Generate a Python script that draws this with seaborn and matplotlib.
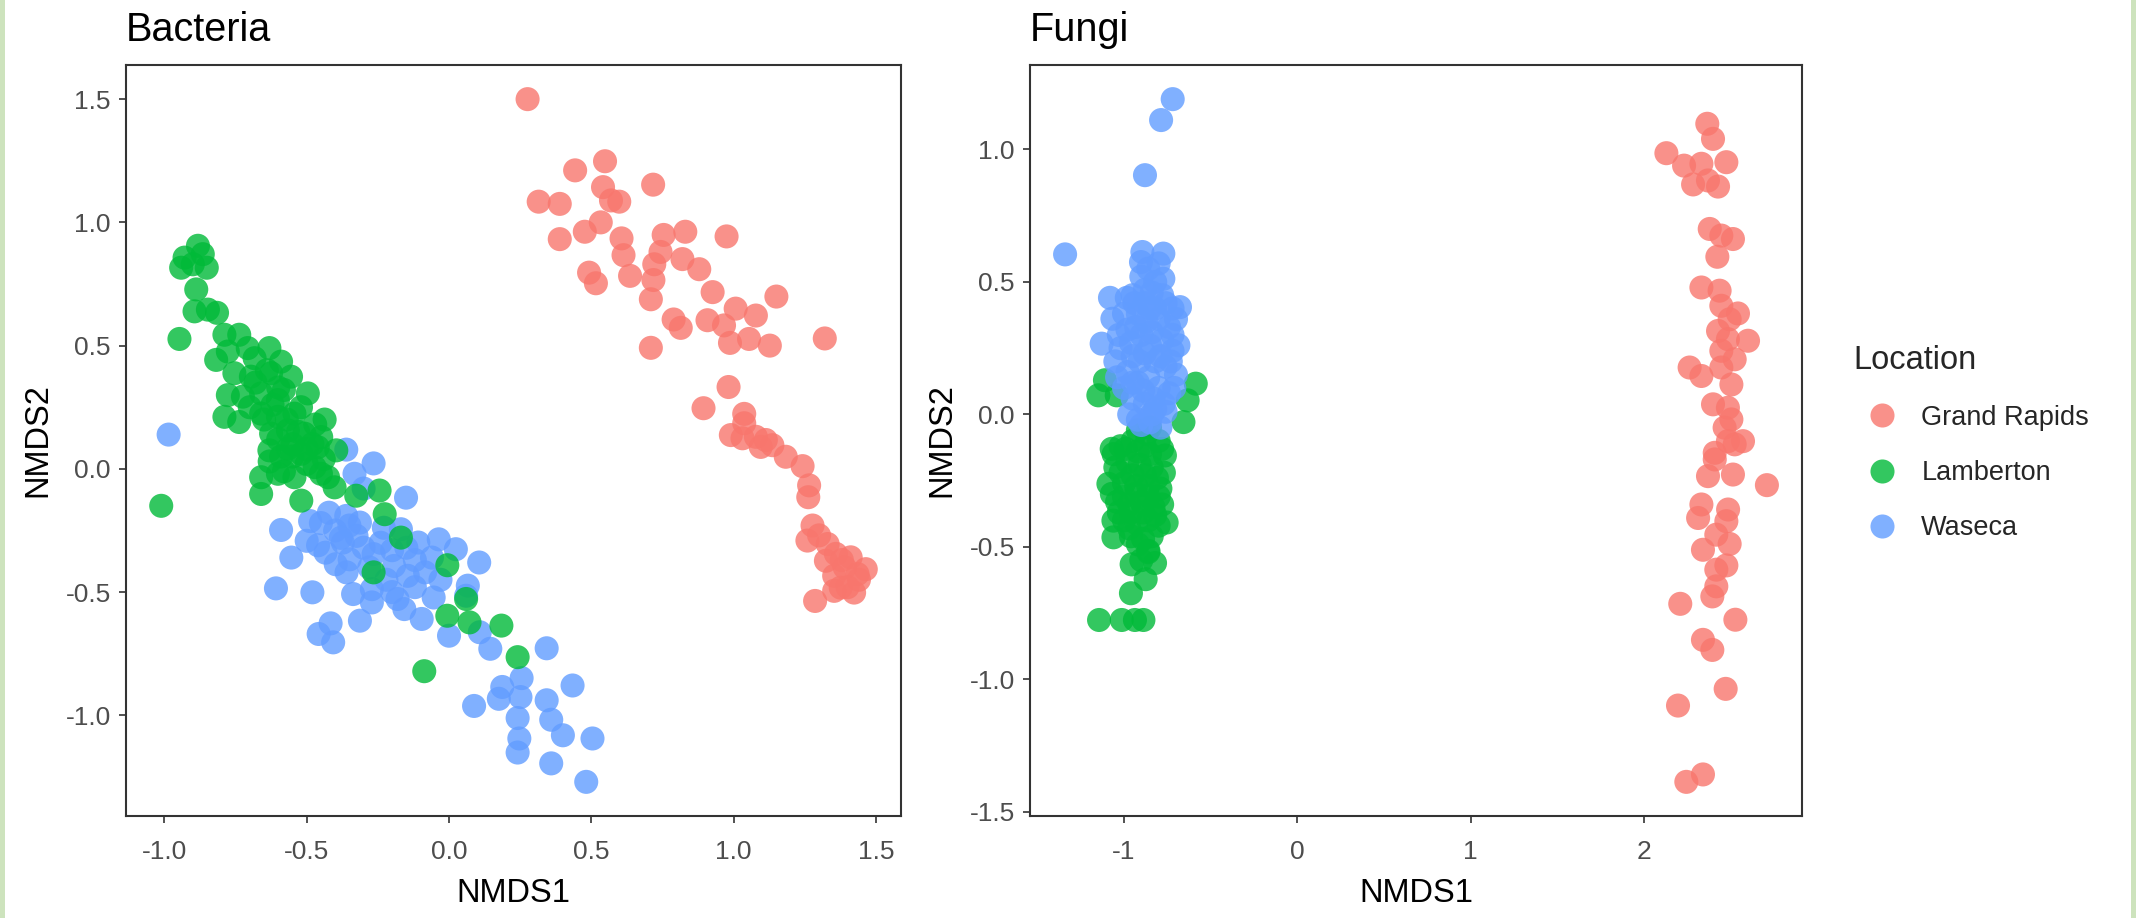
import numpy as np
import pandas as pd
import matplotlib
matplotlib.use("Agg")
import matplotlib.pyplot as plt
from matplotlib.ticker import MultipleLocator, FormatStrFormatter
from matplotlib.patches import Rectangle
import seaborn as sns

# ---------------- data: NMDS ordination scores ----------------
locations = ["Grand Rapids", "Lamberton", "Waseca"]
palette = {"Grand Rapids": "#F8766D", "Lamberton": "#00BA38", "Waseca": "#619CFF"}

bact_gr_x = [0.276, 0.548, 0.443, 0.717, 0.541, 0.315, 0.389, 0.569, 0.598, 0.533,
             0.477, 0.389, 0.606, 0.754, 0.830, 0.975, 0.613, 0.743, 0.721, 0.820,
             0.879, 0.492, 0.516, 0.636, 0.718, 0.709, 0.926, 1.150, 1.007, 1.078,
             0.789, 0.814, 0.908, 0.966, 0.987, 1.054, 1.127, 1.320, 0.709,
             0.982, 0.894, 1.037, 1.037, 0.990, 1.031, 1.078, 1.113, 1.095, 1.136,
             1.183, 1.242, 1.265, 1.262, 1.277, 1.259, 1.330, 1.359, 1.324, 1.411,
             1.464, 1.435, 1.353, 1.376, 1.423, 1.353, 1.286, 1.300, 1.390, 1.440,
             1.380, 1.400]
bact_gr_y = [1.500, 1.248, 1.211, 1.153, 1.143, 1.084, 1.075, 1.089, 1.084, 1.000,
             0.962, 0.932, 0.935, 0.949, 0.962, 0.943, 0.867, 0.880, 0.830, 0.851,
             0.810, 0.796, 0.753, 0.783, 0.766, 0.688, 0.717, 0.699, 0.650, 0.622,
             0.606, 0.572, 0.603, 0.582, 0.511, 0.527, 0.500, 0.529, 0.491,
             0.332, 0.246, 0.223, 0.185, 0.137, 0.124, 0.130, 0.117, 0.089, 0.096,
             0.049, 0.011, -0.067, -0.115, -0.230, -0.291, -0.305, -0.345, -0.373, -0.359,
             -0.407, -0.427, -0.434, -0.482, -0.502, -0.495, -0.536, -0.270, -0.400, -0.450,
             -0.370, -0.480]

bact_wa_x = [-0.985, -0.265, -0.361, -0.151, -0.590, -0.488, -0.422, -0.361, -0.313, -0.229,
             -0.500, -0.434, -0.373, -0.325, -0.265, -0.554, -0.398, -0.349, -0.169, -0.108,
             -0.036, 0.024, 0.106, -0.193, -0.145, -0.084, -0.608, -0.480, -0.337, -0.271,
             -0.271, -0.181, -0.157, -0.096, -0.054, 0.066, 0.060, 0.000, -0.313, -0.416,
             -0.458, -0.407, 0.108, 0.145, 0.343, 0.255, 0.187, 0.175, 0.251, 0.088,
             0.434, 0.343, 0.241, 0.359, 0.400, 0.247, 0.504, 0.241, 0.359, 0.482,
             -0.332, -0.300, -0.400, -0.350, -0.200, -0.120, -0.220,
             -0.450, -0.380, -0.300, -0.240, -0.360, -0.280, -0.150, -0.060, -0.120, -0.200,
             -0.030, -0.460]
bact_wa_y = [0.139, 0.022, 0.078, -0.117, -0.248, -0.212, -0.178, -0.191, -0.218, -0.239,
             -0.292, -0.340, -0.299, -0.272, -0.346, -0.360, -0.387, -0.367, -0.245, -0.299,
             -0.286, -0.326, -0.380, -0.394, -0.434, -0.420, -0.485, -0.501, -0.508, -0.542,
             -0.488, -0.528, -0.569, -0.609, -0.522, -0.474, -0.515, -0.677, -0.616, -0.627,
             -0.670, -0.704, -0.663, -0.730, -0.728, -0.849, -0.885, -0.933, -0.926, -0.962,
             -0.879, -0.939, -1.011, -1.018, -1.081, -1.094, -1.094, -1.151, -1.195, -1.270,
             -0.020, -0.080, -0.250, -0.230, -0.330, -0.370, -0.450,
             -0.220, -0.280, -0.320, -0.300, -0.420, -0.400, -0.320, -0.360, -0.480, -0.500,
             -0.450, -0.310]

bact_la_x = [-0.882, -0.929, -0.865, -0.941, -0.900, -0.851, -0.888, -0.894, -0.847, -0.815,
             -0.947, -0.789, -0.737, -0.818, -0.777, -0.707, -0.631, -0.683, -0.590, -0.754,
             -0.696, -0.625, -0.555, -0.777, -0.724, -0.660, -0.601, -0.496, -0.789, -0.737,
             -0.660, -0.601, -0.543, -0.437, -0.625, -0.566, -0.508, -0.449, -0.631, -0.566,
             -0.519, -0.461, -0.396, -0.660, -0.601, -0.543, -0.472, -0.425, -0.660, -0.519,
             -0.402, -0.326, -0.244, -1.011, -0.226, -0.169, -0.265, -0.006, 0.060, -0.006,
             0.072, 0.184, 0.241, -0.087, -0.580, -0.520, -0.470, -0.550, -0.500, -0.450,
             -0.590, -0.700, -0.640, -0.600,
             -0.620, -0.570, -0.530, -0.480, -0.600, -0.550, -0.500, -0.580, -0.630, -0.440,
             -0.680, -0.650]
bact_la_y = [0.905, 0.857, 0.871, 0.816, 0.830, 0.816, 0.728, 0.639, 0.646, 0.633,
             0.527, 0.544, 0.544, 0.442, 0.476, 0.490, 0.490, 0.449, 0.435, 0.388,
             0.374, 0.388, 0.374, 0.299, 0.293, 0.306, 0.279, 0.306, 0.211, 0.190,
             0.224, 0.211, 0.224, 0.200, 0.143, 0.156, 0.143, 0.129, 0.075, 0.082,
             0.061, 0.088, 0.075, -0.034, -0.020, -0.034, 0.007, -0.034, -0.102, -0.129,
             -0.075, -0.109, -0.088, -0.150, -0.184, -0.279, -0.420, -0.391, -0.528, -0.596,
             -0.623, -0.636, -0.764, -0.821, 0.320, 0.250, 0.180, 0.100, 0.020, -0.020,
             0.050, 0.250, 0.400, 0.330,
             0.260, 0.200, 0.150, 0.100, 0.120, 0.050, 0.080, -0.010, 0.030, 0.040,
             0.350, 0.200]

fung_gr_x = [2.366, 2.399, 2.130, 2.232, 2.332, 2.476, 2.284, 2.370, 2.428, 2.380,
             2.447, 2.514, 2.424, 2.332, 2.437, 2.447, 2.543, 2.495, 2.428, 2.601,
             2.485, 2.447, 2.524, 2.264, 2.332, 2.447, 2.505, 2.399, 2.485, 2.505,
             2.466, 2.572, 2.485, 2.409, 2.524, 2.409, 2.370, 2.514, 2.710, 2.332,
             2.313, 2.486, 2.476, 2.418, 2.495, 2.341, 2.476, 2.418, 2.418, 2.395,
             2.210, 2.528, 2.341, 2.395, 2.472, 2.197, 2.341, 2.245]
fung_gr_y = [1.097, 1.040, 0.986, 0.939, 0.946, 0.952, 0.868, 0.883, 0.860, 0.700,
             0.675, 0.662, 0.595, 0.479, 0.467, 0.410, 0.381, 0.359, 0.315, 0.278,
             0.284, 0.240, 0.208, 0.177, 0.145, 0.177, 0.113, 0.038, 0.025, -0.019,
             -0.050, -0.101, -0.101, -0.145, -0.113, -0.170, -0.233, -0.227, -0.267, -0.340,
             -0.391, -0.359, -0.403, -0.454, -0.489, -0.511, -0.570, -0.586, -0.649, -0.687,
             -0.715, -0.775, -0.851, -0.889, -1.036, -1.099, -1.359, -1.387]

fung_la_x = [-1.110, -1.148, -1.042, -0.586, -0.633, -0.657, -1.071, -0.869, -0.764, -1.090,
             -0.754, -1.061, -1.061, -0.859, -0.956, -0.821, -0.875, -0.960, -1.144, -1.013,
             -0.937, -0.888, -1.020, -0.950, -0.880, -0.800, -1.050, -0.980, -0.910, -0.840,
             -0.770, -1.000, -0.930, -0.860, -0.790, -1.040, -0.970, -0.900, -0.830, -0.780,
             -1.000, -0.930, -0.860, -0.800, -0.960, -0.890, -0.840, -0.900, -0.920, -0.850,
             -1.060, -0.990, -0.920, -0.850, -0.780, -1.020, -0.950, -0.880, -0.810, -1.070,
             -1.000, -0.930, -0.860, -0.800, -1.030, -0.960, -0.890, -0.820, -0.970, -0.920,
             -0.860]
fung_la_y = [0.129, 0.072, 0.072, 0.116, 0.053, -0.029, -0.130, -0.073, -0.155, -0.262,
             -0.408, -0.464, -0.401, -0.515, -0.566, -0.561, -0.622, -0.675, -0.776, -0.776,
             -0.776, -0.776, -0.120, -0.100, -0.120, -0.100, -0.200, -0.180, -0.190, -0.200,
             -0.220, -0.260, -0.270, -0.270, -0.280, -0.330, -0.340, -0.330, -0.350, -0.340,
             -0.400, -0.410, -0.400, -0.420, -0.460, -0.470, -0.460, -0.550, -0.060, -0.050,
             -0.150, -0.130, -0.140, -0.150, -0.130, -0.220, -0.230, -0.230, -0.240, -0.300,
             -0.310, -0.300, -0.310, -0.310, -0.370, -0.370, -0.370, -0.380, -0.430, -0.490,
             -0.520]

fung_wa_x = [-0.719, -0.786, -0.879, -1.340, -0.894, -0.773, -0.902, -0.773, -1.081, -0.984,
             -0.677, -1.067, -1.129, -0.686, -0.950, -0.880, -0.820, -0.780, -0.720, -0.920,
             -0.850, -0.800, -0.740, -0.980, -0.900, -0.840, -0.780, -0.720, -1.020, -0.950,
             -0.880, -0.820, -0.760, -0.700, -0.980, -0.920, -0.860, -0.800, -0.740, -0.950,
             -0.880, -0.820, -0.760, -0.920, -0.850, -0.790, -1.050, -0.720, -0.860, -0.800,
             -0.900,
             -1.000, -1.030, -0.960, -0.930, -0.870, -0.820, -0.760, -0.700, -0.730, -0.790,
             -0.850, -0.910, -1.000, -1.040, -0.950, -0.890, -0.830, -0.770, -0.710, -0.970,
             -0.900, -0.840, -0.940, -0.880, -0.840]
fung_wa_y = [1.190, 1.111, 0.903, 0.604, 0.613, 0.607, 0.575, 0.512, 0.440, 0.440,
             0.405, 0.361, 0.267, 0.261, 0.450, 0.470, 0.500, 0.450, 0.400, 0.380,
             0.400, 0.360, 0.330, 0.320, 0.300, 0.310, 0.280, 0.240, 0.250, 0.220,
             0.230, 0.200, 0.180, 0.150, 0.160, 0.120, 0.140, 0.100, 0.080, 0.060,
             0.040, 0.020, 0.010, -0.020, -0.030, -0.050, 0.200, 0.300, 0.550, 0.570,
             0.520,
             0.380, 0.300, 0.270, 0.330, 0.350, 0.400, 0.420, 0.360, 0.200, 0.220,
             0.260, 0.200, 0.100, 0.140, 0.120, 0.090, 0.060, 0.040, 0.100, 0.000,
             -0.040, 0.000, 0.420, 0.420, 0.460]


def frame(groups):
    parts = []
    for name, xs, ys in groups:
        parts.append(pd.DataFrame({"NMDS1": xs, "NMDS2": ys, "Location": name}))
    return pd.concat(parts, ignore_index=True)


bacteria = frame([("Grand Rapids", bact_gr_x, bact_gr_y),
                  ("Waseca", bact_wa_x, bact_wa_y),
                  ("Lamberton", bact_la_x, bact_la_y)])
fungi = frame([("Grand Rapids", fung_gr_x, fung_gr_y),
               ("Lamberton", fung_la_x, fung_la_y),
               ("Waseca", fung_wa_x, fung_wa_y)])

# ---------------- styling ----------------
sns.set_style("white")
plt.rcParams["font.family"] = ["Liberation Sans", "DejaVu Sans"]
plt.rcParams["axes.unicode_minus"] = False

W, H = 2136, 918
fig = plt.figure(figsize=(W / 100, H / 100), dpi=100)
fig.patch.set_facecolor("white")

# thin green side strips
fig.patches.append(Rectangle((0, 0), 5 / W, 1, transform=fig.transFigure,
                             facecolor="#cde3bd", edgecolor="none", zorder=0))
fig.patches.append(Rectangle((1 - 5 / W, 0), 5 / W, 1, transform=fig.transFigure,
                             facecolor="#cde3bd", edgecolor="none", zorder=0))

ax1 = fig.add_axes([126 / W, 1 - 816 / H, 775 / W, 751 / H])
ax2 = fig.add_axes([1030 / W, 1 - 816 / H, 772 / W, 751 / H])

point_kw = dict(s=300, alpha=0.8, linewidth=0, hue_order=locations, palette=palette)
sns.scatterplot(data=bacteria, x="NMDS1", y="NMDS2", hue="Location", ax=ax1,
                legend=False, **point_kw)
sns.scatterplot(data=fungi, x="NMDS1", y="NMDS2", hue="Location", ax=ax2,
                legend=True, **point_kw)

for ax, title, xstep, xfmt in [(ax1, "Bacteria", 0.5, "%.1f"), (ax2, "Fungi", 1.0, "%d")]:
    ax.margins(0.05)
    ax.xaxis.set_major_locator(MultipleLocator(xstep))
    ax.xaxis.set_major_formatter(FormatStrFormatter(xfmt))
    ax.yaxis.set_major_locator(MultipleLocator(0.5))
    ax.yaxis.set_major_formatter(FormatStrFormatter("%.1f"))
    for sp in ax.spines.values():
        sp.set_visible(True)
        sp.set_color("#333333")
        sp.set_linewidth(1.5)
    ax.tick_params(axis="both", direction="out", length=5, width=1.2, color="#333333",
                   labelsize=19, labelcolor="#4D4D4D", bottom=True, left=True)
    ax.tick_params(axis="x", pad=12)
    ax.tick_params(axis="y", pad=6)
    ax.set_xlabel("NMDS1", fontsize=23.5, color="black", labelpad=10)
    ax.set_ylabel("NMDS2", fontsize=23.5, color="black", labelpad=9)
    ax.set_title(title, loc="left", fontsize=28.5, color="black", pad=17)
    ax.grid(False)

sns.move_legend(ax2, "upper left", bbox_to_anchor=(1840 / W, 1 - 331 / H),
                bbox_transform=fig.transFigure, frameon=False, title="Location",
                fontsize=19.5, title_fontsize=23.5, borderpad=0, labelspacing=1.08,
                handlelength=2.1, handletextpad=0.4, alignment="left")

fig.savefig("out.png", dpi=100, facecolor="white")
